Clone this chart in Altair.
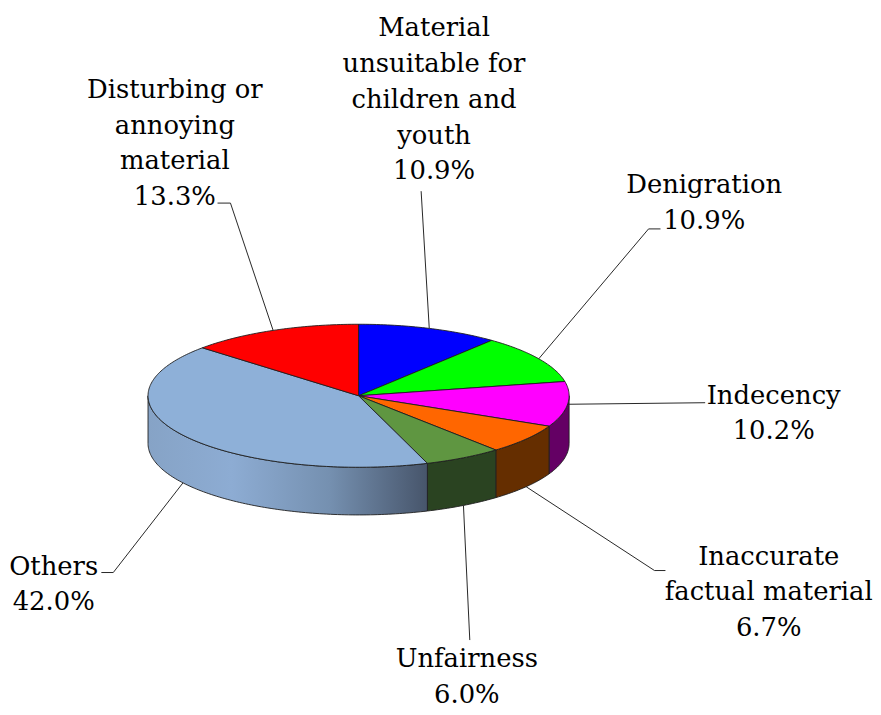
import numpy as np
import pandas as pd
import altair as alt

# ---------------- data ----------------
categories = [
    "Material unsuitable for children and youth",
    "Denigration",
    "Indecency",
    "Inaccurate factual material",
    "Unfairness",
    "Others",
    "Disturbing or annoying material",
]
shares = [10.9, 10.9, 10.2, 6.7, 6.0, 42.0, 13.3]
label_lines = [
    ["Material", "unsuitable for", "children and", "youth"],
    ["Denigration"],
    ["Indecency"],
    ["Inaccurate", "factual material"],
    ["Unfairness"],
    ["Others"],
    ["Disturbing or", "annoying", "material"],
]

# ---------------- style ----------------
top_colors = ["#0000FF", "#00FF00", "#FF00FF", "#FF6600", "#5F9641", "#8EB0D8", "#FF0000"]
side_colors = ["#00007A", "#007A00", "#640064", "#652E00", "#2A4321", None, "#7A0000"]
others_side = alt.LinearGradient(
    gradient="linear",
    stops=[
        alt.GradientStop(offset=0.0, color="#86A3C6"),
        alt.GradientStop(offset=0.3, color="#8DACD3"),
        alt.GradientStop(offset=0.65, color="#7590B0"),
        alt.GradientStop(offset=1.0, color="#47556B"),
    ],
    x1=0, x2=1, y1=0, y2=0,
)
EDGE = "#1E1E1E"
FONT = "DejaVu Serif"
FS = 26
LINE_H = 36

# ---------------- layout ----------------
CX, CY, RX, RY, DEPTH = 361, 396, 212, 72, 48
X0, X1, Y0, Y1 = 8, 879, 8, 713
# label anchors: centre x, first baseline y
label_pos = [(437, 34), (709, 192), (779, 404), (774, 566), (470, 669), (54, 576), (176, 96)]
# leader elbows / ends (label side)
leader_ends = [
    [(424, 190)],
    [(653, 228), (665, 228)],
    [(710, 403)],
    [(659, 572), (670, 572)],
    [(473, 642)],
    [(114, 574), (102, 574)],
    [(232, 202), (219, 202)],
]

xs = alt.Scale(domain=[X0, X1], nice=False, zero=False)
ys = alt.Scale(domain=[Y1, Y0], nice=False, zero=False)


def arc(t1, t2, dy=0.0):
    n = max(int(abs(t2 - t1)) + 2, 3)
    t = np.radians(np.linspace(t1, t2, n))
    return list(CX + RX * np.sin(t)), list(CY - RY * np.cos(t) + dy)


def poly_layer(px, py, fill, sw=0.9):
    df = pd.DataFrame({"x": px, "y": py, "i": range(len(px))})
    return alt.Chart(df).mark_line(
        fill=fill, stroke=EDGE, strokeWidth=sw, strokeJoin="round", interpolate="linear"
    ).encode(
        x=alt.X("x:Q", scale=xs, axis=None),
        y=alt.Y("y:Q", scale=ys, axis=None),
        order="i:Q",
    )


cum = np.concatenate([[0.0], np.cumsum(shares)])
angles = cum / cum[-1] * 360.0

wall_layers, top_layers = [], []
for k in range(len(shares)):
    t1, t2 = angles[k], angles[k + 1]
    # visible side wall (front half of the disc)
    a1, a2 = max(t1, 90.0), min(t2, 270.0)
    if a1 < a2:
        ux, uy = arc(a1, a2)
        bx, by = arc(a2, a1, DEPTH)
        px = ux + bx + [ux[0]]
        py = uy + by + [uy[0]]
        fill = others_side if side_colors[k] is None else side_colors[k]
        wall_layers.append(poly_layer(px, py, fill))
    # top face
    ax_, ay_ = arc(t1, t2)
    px = [CX] + ax_ + [CX]
    py = [CY] + ay_ + [CY]
    top_layers.append(poly_layer(px, py, top_colors[k]))

# leader lines
lead_rows = []
for k in range(len(shares)):
    mid = (angles[k] + angles[k + 1]) / 2
    r = np.radians(mid)
    sx = CX + RX * np.sin(r)
    sy = CY - RY * np.cos(r) + (DEPTH if 120 <= mid <= 240 else 0)
    pts = [(sx, sy)] + leader_ends[k]
    for j, (x, y) in enumerate(pts):
        lead_rows.append({"x": x, "y": y, "i": j, "cat": categories[k]})
leaders = alt.Chart(pd.DataFrame(lead_rows)).mark_line(
    color="#262626", strokeWidth=1
).encode(
    x=alt.X("x:Q", scale=xs, axis=None),
    y=alt.Y("y:Q", scale=ys, axis=None),
    order="i:Q",
    detail="cat:N",
)

# labels
text_rows = []
for k in range(len(shares)):
    lines = label_lines[k] + [f"{shares[k]:.1f}%"]
    lx, ly = label_pos[k]
    for j, s in enumerate(lines):
        text_rows.append({"x": lx, "y": ly + j * LINE_H, "t": s})
labels = alt.Chart(pd.DataFrame(text_rows)).mark_text(
    font=FONT, fontSize=FS, align="center", baseline="alphabetic", color="#000000"
).encode(
    x=alt.X("x:Q", scale=xs, axis=None),
    y=alt.Y("y:Q", scale=ys, axis=None),
    text="t:N",
)

chart = alt.layer(*(wall_layers + top_layers + [leaders, labels])).properties(
    width=X1 - X0, height=Y1 - Y0, padding=0, autosize="none", background="white"
).configure_view(stroke=None)

chart.save("out.html", embed_options={"renderer": "svg", "actions": False})
